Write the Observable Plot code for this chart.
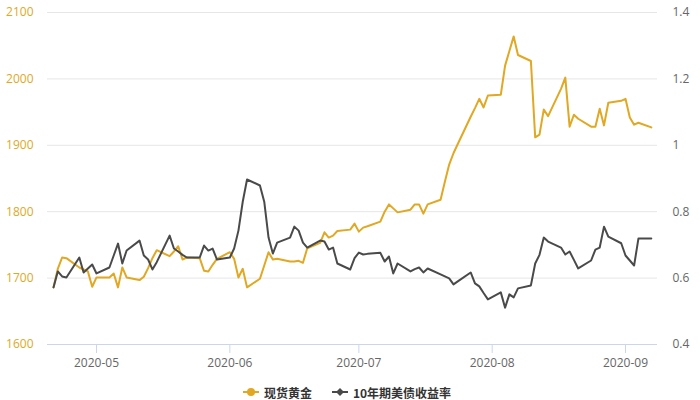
<!DOCTYPE html>
<html><head><meta charset="utf-8">
<script src="https://cdn.jsdelivr.net/npm/d3@7"></script>
<script src="https://cdn.jsdelivr.net/npm/@observablehq/plot@0.6"></script>
<style>
body{margin:0;background:#fff;font-family:"Open Sans","Noto Sans CJK SC",sans-serif;}
#chart svg{display:block;}
#legend{height:20px;margin-top:10px;display:flex;justify-content:center;align-items:center;gap:20px;font-size:12px;font-weight:bold;color:#333;font-family:"Noto Sans CJK SC","Open Sans",sans-serif;padding-right:6px;}
#legend span.item{display:flex;align-items:center;gap:5px;}
</style></head><body>
<div id="chart"></div>
<div id="legend"></div>
<script>
// Trading days (2020)
const dates = [
 "04-21","04-22","04-23","04-24","04-27","04-28","04-29","04-30",
 "05-01","05-04","05-05","05-06","05-07","05-08","05-11","05-12","05-13","05-14","05-15","05-18","05-19","05-20","05-21","05-22","05-25","05-26","05-27","05-28","05-29",
 "06-01","06-02","06-03","06-04","06-05","06-08","06-09","06-10","06-11","06-12","06-15","06-16","06-17","06-18","06-19","06-22","06-23","06-24","06-25","06-26","06-29","06-30",
 "07-01","07-02","07-03","07-06","07-07","07-08","07-09","07-10","07-13","07-14","07-15","07-16","07-17","07-20","07-21","07-22","07-23","07-24","07-27","07-28","07-29","07-30","07-31",
 "08-03","08-04","08-05","08-06","08-07","08-10","08-11","08-12","08-13","08-14","08-17","08-18","08-19","08-20","08-21","08-24","08-25","08-26","08-27","08-28","08-31",
 "09-01","09-02","09-03","09-04","09-07"
];
// 现货黄金 (USD/oz)
const gold = [
 1686,1714,1731,1730,1716,1713,1710,1687,
 1701,1701,1707,1686,1716,1701,1697,1702,1715,1730,1742,1733,1740,1748,1728,1731,1730,1711,1710,1720,1729,
 1739,1729,1701,1714,1686,1699,1719,1739,1728,1729,1725,1725,1726,1723,1745,1753,1769,1761,1764,1771,1773,1782,
 1770,1776,1778,1785,1800,1811,1805,1799,1803,1811,1811,1797,1811,1818,1845,1871,1888,1902,1943,1956,1970,1957,1975,
 1976,2020,2042,2064,2036,2027,1912,1916,1954,1944,1985,2002,1928,1946,1940,1928,1928,1955,1930,1964,1967,
 1970,1942,1931,1934,1927
];
// 10年期美债收益率 (%)
const yield10 = [
 0.572,0.620,0.605,0.602,0.662,0.617,0.629,0.641,
 0.614,0.632,0.668,0.704,0.644,0.683,0.713,0.668,0.656,0.626,0.648,0.728,0.689,0.680,0.670,0.662,0.662,0.698,0.683,0.689,0.656,
 0.662,0.689,0.743,0.830,0.897,0.879,0.830,0.722,0.674,0.707,0.722,0.755,0.743,0.707,0.692,0.713,0.710,0.686,0.692,0.644,0.626,0.660,
 0.677,0.671,0.673,0.676,0.650,0.665,0.614,0.644,0.620,0.627,0.632,0.617,0.629,0.611,0.605,0.599,0.581,0.590,0.617,0.584,0.575,0.555,0.536,
 0.557,0.511,0.551,0.542,0.569,0.578,0.644,0.670,0.722,0.710,0.692,0.671,0.680,0.655,0.629,0.653,0.686,0.692,0.755,0.725,0.705,
 0.668,0.653,0.638,0.719,0.719
];
const goldTicks = [1600,1700,1800,1900,2000,2100];
const yieldTicks = [0.4,0.6,0.8,1,1.2,1.4];
const monthTicks = ["2020-05-01","2020-06-01","2020-07-01","2020-08-01","2020-09-01"];
const seriesNames = ["现货黄金","10年期美债收益率"];
const colors = ["#e0a823","#4a4a4a"];

// map yield axis (0.4–1.4) onto gold axis (1600–2100)
const toGold = v => 1600 + (v - 0.4) * 500;
const fmtY = d3.format("~g");
const rows = dates.map((d,i)=>({date:new Date("2020-"+d+"T00:00:00Z"), gold:gold[i], y10:yield10[i]}));

const chart = Plot.plot({
  width:700, height:372,
  marginTop:12, marginBottom:28, marginLeft:47, marginRight:43,
  style:{fontFamily:'"Open Sans","Noto Sans CJK SC",sans-serif', fontSize:"12px", background:"#fff", overflow:"visible"},
  x:{type:"utc", domain:[new Date("2020-04-19T14:30:00Z"), new Date("2020-09-08T10:30:00Z")]},
  y:{domain:[1600,2100]},
  marks:[
    Plot.ruleY(goldTicks.slice(1), {stroke:"#e6e6e6", strokeWidth:1}),
    Plot.axisY({anchor:"left", ticks:goldTicks, tickSize:0, tickPadding:14, fill:"#e0a823", label:null, fontSize:12,
                tickFormat:d=>String(d)}),
    Plot.axisY({anchor:"right", ticks:yieldTicks.map(toGold), tickSize:0, tickPadding:15, fill:"#666", label:null,
                tickFormat:d=>fmtY((d-1600)/500+0.4), fontSize:12}),
    Plot.axisX({ticks:monthTicks.map(s=>new Date(s+"T00:00:00Z")), tickFormat:d3.utcFormat("%Y-%m"),
                tickSize:9, tickPadding:5, stroke:"#ccd6eb", fill:"#666", label:null, fontSize:12}),
    Plot.ruleY([1600], {stroke:"#ccd6eb", strokeWidth:1}),
    Plot.lineY(rows, {x:"date", y:"gold", stroke:colors[0], strokeWidth:2}),
    Plot.lineY(rows, {x:"date", y:d=>toGold(d.y10), stroke:colors[1], strokeWidth:2})
  ]
});
document.getElementById("chart").appendChild(chart);

const lg = document.getElementById("legend");
seriesNames.forEach((name,i)=>{
  const item = document.createElement("span");
  item.className = "item";
  const marker = i===0
    ? `<svg width="16" height="10"><line x1="0" y1="5" x2="16" y2="5" stroke="${colors[i]}" stroke-width="2"/><circle cx="8" cy="5" r="4" fill="${colors[i]}"/></svg>`
    : `<svg width="16" height="10"><line x1="0" y1="5" x2="16" y2="5" stroke="${colors[i]}" stroke-width="2"/><path d="M8 1 L12 5 L8 9 L4 5 Z" fill="${colors[i]}"/></svg>`;
  item.innerHTML = marker + `<span>${name}</span>`;
  lg.appendChild(item);
});
</script>
</body></html>
